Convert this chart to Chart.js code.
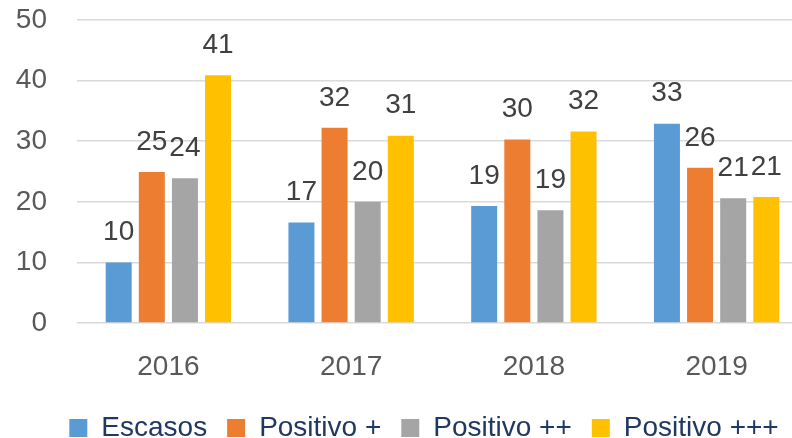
<!DOCTYPE html>
<html>
<head>
<meta charset="utf-8">
<script src="https://cdn.jsdelivr.net/npm/chart.js@4/dist/chart.umd.min.js"></script>
<style>
  html, body { margin: 0; padding: 0; background: #fff; overflow: hidden; }
  .wrap { width: 810px; height: 438px; position: relative; }
</style>
</head>
<body>
<div class="wrap"><canvas id="myChart"></canvas></div>
<script>
// data
const years = ['2016', '2017', '2018', '2019'];
const escasos = [10.0, 16.6, 19.3, 32.9];
const positivo1 = [24.9, 32.2, 30.3, 25.6];
const positivo2 = [23.9, 20.0, 18.6, 20.6];
const positivo3 = [40.9, 30.9, 31.6, 20.8];
const seriesNames = ['Escasos', 'Positivo +', 'Positivo ++', 'Positivo +++'];
const yTicks = [0, 10, 20, 30, 40, 50];

const colors = ['#5B9BD5', '#ED7D31', '#A5A5A5', '#FFC000'];
const FONT = 'Liberation Sans, Arial, sans-serif';

// labels on top of bars (no datalabels plugin offline)
const barLabels = {
    id: 'barLabels',
    afterLayout(chart) {
        // nudge legend a bit to the right, like the original
        chart.legend.left += 12;
        chart.legend.right += 12;
    },
    afterDatasetsDraw(chart) {
        const ctx = chart.ctx;
        ctx.save();
        ctx.font = '28px ' + FONT;
        ctx.fillStyle = '#404040';
        ctx.textAlign = 'center';
        ctx.textBaseline = 'middle';
        chart.data.datasets.forEach((ds, i) => {
            chart.getDatasetMeta(i).data.forEach((bar, j) => {
                ctx.fillText(Math.round(ds.data[j]), bar.x, bar.y - 30);
            });
        });
        ctx.restore();
    }
};

let myChart = document.getElementById('myChart').getContext('2d');
let testChart = new Chart(myChart, {
    type: 'bar',
    data: {
        labels: years,
        datasets: [escasos, positivo1, positivo2, positivo3].map((d, i) => ({
            label: seriesNames[i],
            data: d,
            backgroundColor: colors[i],
            categoryPercentage: 0.725,
            barPercentage: 0.785
        }))
    },
    options: {
        responsive: true,
        maintainAspectRatio: false,
        animation: false,
        layout: { padding: { left: 16, right: 2, top: 20, bottom: -14 } },
        plugins: {
            tooltip: { enabled: false },
            legend: {
                position: 'bottom',
                labels: {
                    boxWidth: 18,
                    boxHeight: 18,
                    padding: 20,
                    color: '#1F3864',
                    font: { family: FONT, size: 28 }
                }
            }
        },
        scales: {
            x: {
                grid: { display: false },
                border: { display: false },
                ticks: { color: '#595959', padding: 19, font: { family: FONT, size: 28 } },
                afterFit: (axis) => { axis.height = 71; }
            },
            y: {
                min: 0,
                max: 50,
                afterBuildTicks: (axis) => { axis.ticks = yTicks.map(v => ({ value: v })); },
                afterFit: (axis) => {
                    axis.width = 61;
                    axis.paddingTop = 0;
                    axis.paddingBottom = 0;
                },
                grid: { color: '#D9D9D9', lineWidth: 1.5, drawTicks: false },
                border: { display: false },
                ticks: { color: '#595959', padding: 30, font: { family: FONT, size: 28 } }
            }
        }
    },
    plugins: [barLabels]
});
</script>
</body>
</html>
